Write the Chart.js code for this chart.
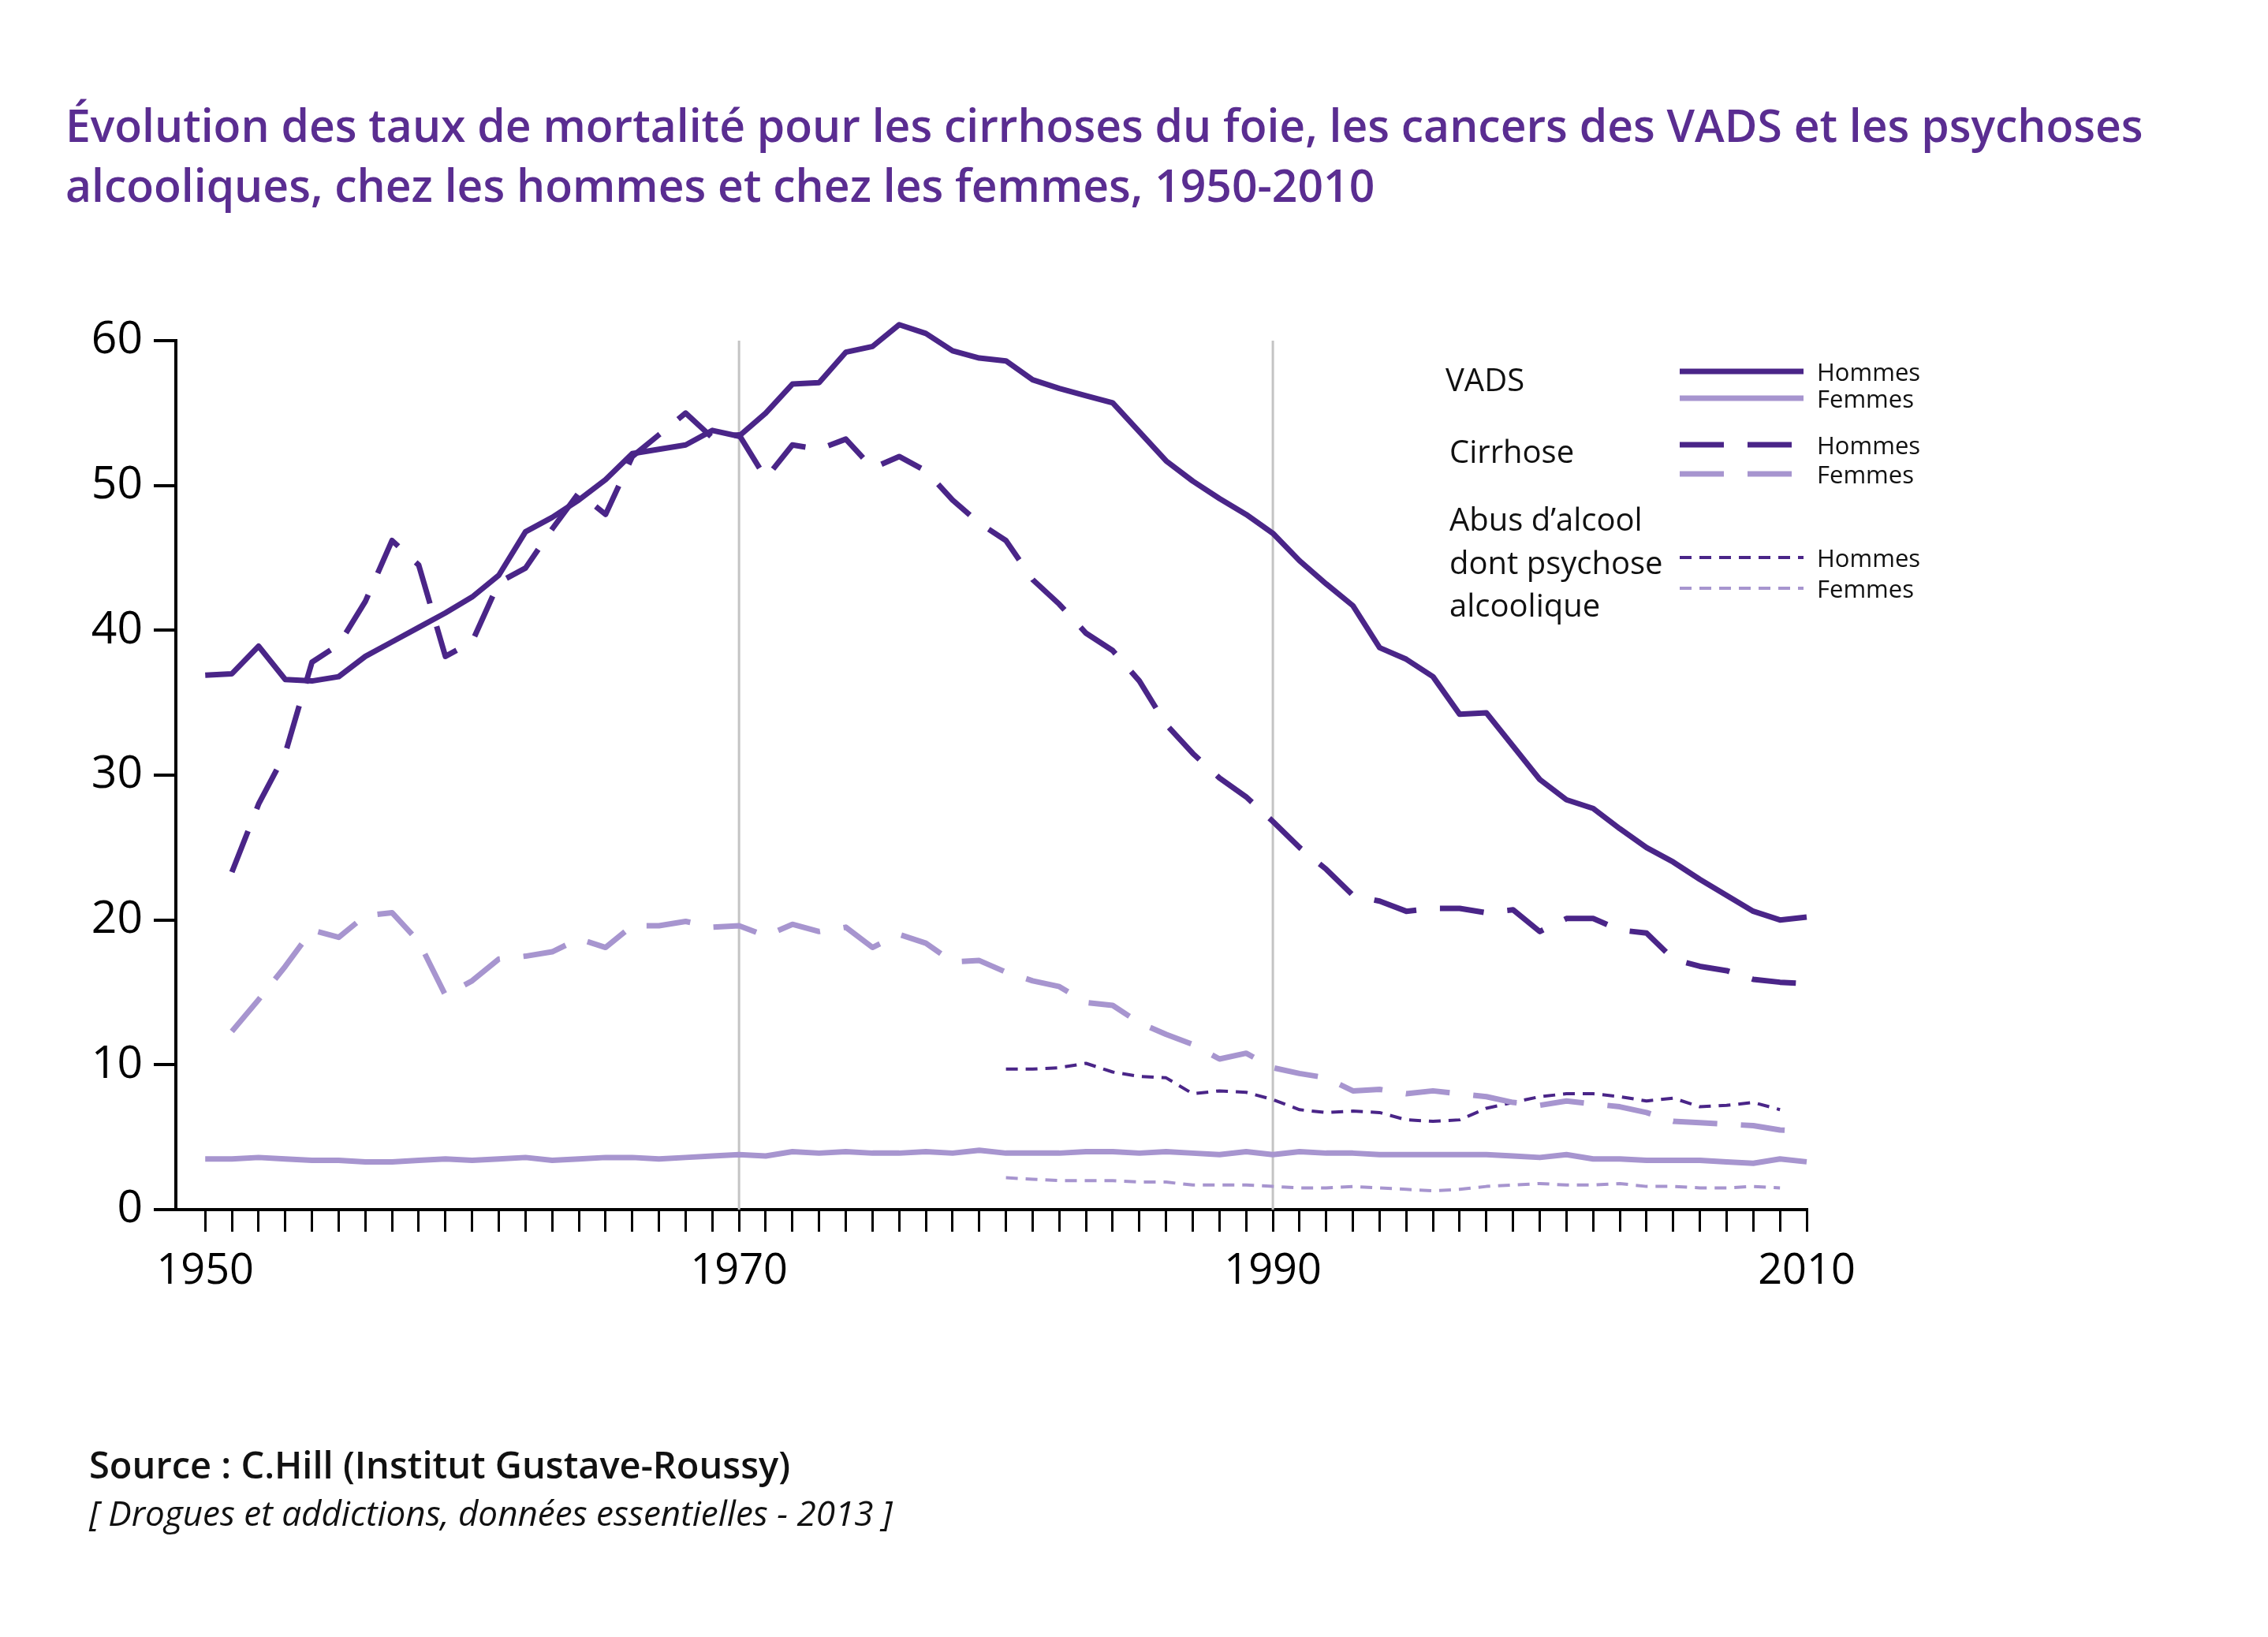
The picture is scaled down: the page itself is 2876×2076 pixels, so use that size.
<!DOCTYPE html>
<html><head><meta charset="utf-8">
<script src="https://cdn.jsdelivr.net/npm/chart.js@4"></script>
<style>html,body{margin:0;padding:0;background:#fff}#w{width:2876px;height:2076px}</style>
</head><body><div id="w"><canvas id="c" width="2876" height="2076"></canvas></div>
<script>
const years = []; for (let y = 1950; y <= 2010; y++) years.push(y);
const yearsPsy = years.filter(y => y >= 1980 && y <= 2009);
const yTicks = [0,10,20,30,40,50,60];
const xLabels = [1950,1970,1990,2010];
const refLines = [1970,1990];

const vadsHommes = [36.9,37,38.9,36.6,36.5,36.8,38.2,39.2,40.2,41.2,42.3,43.8,46.8,47.8,49,50.4,52.2,52.5,52.8,53.8,53.4,55,57,57.1,59.2,59.6,61.1,60.5,59.3,58.8,58.6,57.3,56.7,56.2,55.7,53.7,51.7,50.3,49.1,48,46.7,44.8,43.2,41.7,38.8,38,36.8,34.2,34.3,32,29.7,28.3,27.7,26.3,25,24,22.8,21.7,20.6,20,20.2];
const vadsFemmes = [3.5,3.5,3.6,3.5,3.4,3.4,3.3,3.3,3.4,3.5,3.4,3.5,3.6,3.4,3.5,3.6,3.6,3.5,3.6,3.7,3.8,3.7,4,3.9,4,3.9,3.9,4,3.9,4.1,3.9,3.9,3.9,4,4,3.9,4,3.9,3.8,4,3.8,4,3.9,3.9,3.8,3.8,3.8,3.8,3.8,3.7,3.6,3.8,3.5,3.5,3.4,3.4,3.4,3.3,3.2,3.5,3.3];
const cirrHommes = [null,23.3,28,31.5,37.8,39,42,46.2,44.5,38.2,39.2,43.3,44.3,47,49.5,48,52,53.5,55,53.3,53.5,50.5,52.8,52.5,53.2,51.2,52,51,49,47.4,46.2,43.5,41.8,39.8,38.6,36.5,33.5,31.5,29.8,28.5,26.8,25,23.5,21.7,21.3,20.6,20.8,20.8,20.5,20.7,19.2,20.1,20.1,19.3,19.1,17.3,16.8,16.5,15.9,15.7,15.6];
const cirrFemmes = [null,12.3,14.5,16.8,19.3,18.8,20.3,20.5,18.5,14.8,15.8,17.3,17.5,17.8,18.7,18.1,19.6,19.6,19.9,19.5,19.6,18.9,19.7,19.2,19.5,18.1,19,18.4,17.1,17.2,16.4,15.8,15.4,14.3,14.1,12.9,12.1,11.4,10.4,10.8,9.8,9.4,9.1,8.2,8.3,8,8.2,8,7.8,7.4,7.2,7.5,7.3,7.1,6.7,6.1,6,5.9,5.8,5.5,5.4];
const psyHommes = [9.7,9.7,9.8,10.1,9.5,9.2,9.1,8,8.2,8.1,7.6,6.9,6.7,6.8,6.7,6.2,6.1,6.2,7,7.4,7.8,8,8,7.8,7.5,7.7,7.1,7.2,7.4,6.9];
const psyFemmes = [2.2,2.1,2,2,2,1.9,1.9,1.7,1.7,1.7,1.6,1.5,1.5,1.6,1.5,1.4,1.3,1.4,1.6,1.7,1.8,1.7,1.7,1.8,1.6,1.6,1.5,1.5,1.6,1.5];

const DARK = '#4a2588', LIGHT = '#a795cf', PURPLE = '#5a2d91';
const FONT = '"Open Sans", "DejaVu Sans", sans-serif';
const pts = (xs, vs) => xs.map((x, i) => ({x, y: vs[i]}));
const ds = (label, xs, vs, color, width, dash) => ({label, data: pts(xs, vs), borderColor: color, borderWidth: width, borderDash: dash, pointRadius: 0, tension: 0, fill: false, spanGaps: false, clip: false, borderCapStyle: 'butt', borderJoinStyle: 'round'});

const overlay = {
  id: 'overlay',
  beforeDatasetsDraw(chart) {
    const {ctx, scales: {x, y}} = chart;
    ctx.save(); ctx.strokeStyle = '#c4c4c4'; ctx.lineWidth = 3;
    refLines.forEach(v => { const px = x.getPixelForValue(v); ctx.beginPath(); ctx.moveTo(px, y.getPixelForValue(60)); ctx.lineTo(px, y.getPixelForValue(0)); ctx.stroke(); });
    ctx.restore();
  },
  afterDraw(chart) {
    const ctx = chart.ctx; ctx.save();
    ctx.fillStyle = PURPLE; ctx.textBaseline = 'alphabetic';
    ctx.font = '600 57px ' + FONT;
    ctx.fillText("Évolution des taux de mortalité pour les cirrhoses du foie, les cancers des VADS et les psychoses", 83, 180);
    ctx.fillText("alcooliques, chez les hommes et chez les femmes, 1950-2010", 83, 256);
    ctx.fillStyle = '#111';
    ctx.font = '600 47px ' + FONT; ctx.fillText("Source : C.Hill (Institut Gustave-Roussy)", 113, 1875);
    ctx.font = 'italic 44px ' + FONT; ctx.fillText("[ Drogues et addictions, données essentielles - 2013 ]", 113, 1935);
    // legend
    ctx.font = '40px ' + FONT;
    ctx.fillText("VADS", 1833, 496);
    ctx.fillText("Cirrhose", 1838, 587);
    ctx.fillText("Abus d’alcool", 1838, 673);
    ctx.fillText("dont psychose", 1838, 728);
    ctx.fillText("alcoolique", 1838, 782);
    const items = [[471,DARK,7,[]],[505,LIGHT,7,[]],[564,DARK,7,[56,30]],[601,LIGHT,7,[56,30]],[707,DARK,4,[15,10]],[746,LIGHT,4,[15,10]]];
    ctx.font = '31px ' + FONT;
    items.forEach(([yy,c,w,d],i) => {
      ctx.strokeStyle = c; ctx.lineWidth = w; ctx.setLineDash(d);
      ctx.beginPath(); ctx.moveTo(2130, yy); ctx.lineTo(2287, yy); ctx.stroke();
      ctx.fillStyle = '#111'; ctx.fillText(i % 2 ? 'Femmes' : 'Hommes', 2304, yy + 12);
    });
    ctx.restore();
  }
};

new Chart(document.getElementById('c'), {
  type: 'line',
  data: { datasets: [
    ds('VADS Hommes', years, vadsHommes, DARK, 7, []),
    ds('VADS Femmes', years, vadsFemmes, LIGHT, 7, []),
    ds('Cirrhose Hommes', years, cirrHommes, DARK, 7, [56,30]),
    ds('Cirrhose Femmes', years, cirrFemmes, LIGHT, 7, [56,30]),
    ds('Psychose Hommes', yearsPsy, psyHommes, DARK, 4, [15,10]),
    ds('Psychose Femmes', yearsPsy, psyFemmes, LIGHT, 4, [15,10])
  ]},
  options: {
    responsive: false, animation: false, devicePixelRatio: 1,
    layout: { padding: { left: 0, right: 585, top: 432, bottom: 0 } },
    plugins: { legend: { display: false }, tooltip: { enabled: false } },
    scales: {
      x: { type: 'linear', min: 1948.9, max: 2010,
        afterFit(s) { s.height = 542; },
        afterBuildTicks(s) { s.ticks = years.map(v => ({value: v})); },
        border: { display: true, color: '#000', width: 4 },
        grid: { drawOnChartArea: false, drawTicks: true, tickLength: 28, color: '#000', lineWidth: 3 },
        ticks: { autoSkip: false, maxRotation: 0, color: '#000', padding: 18, font: { family: FONT, size: 54 },
          callback: v => xLabels.includes(v) ? String(v) : '' } },
      y: { min: 0, max: 60,
        afterFit(s) { s.width = 223; },
        afterBuildTicks(s) { s.ticks = yTicks.map(v => ({value: v})); },
        border: { display: true, color: '#000', width: 4 },
        grid: { drawOnChartArea: false, drawTicks: true, tickLength: 28, color: '#000', lineWidth: 4 },
        ticks: { color: '#000', padding: 14, font: { family: FONT, size: 57 } } }
    }
  },
  plugins: [overlay]
});
</script></body></html>
